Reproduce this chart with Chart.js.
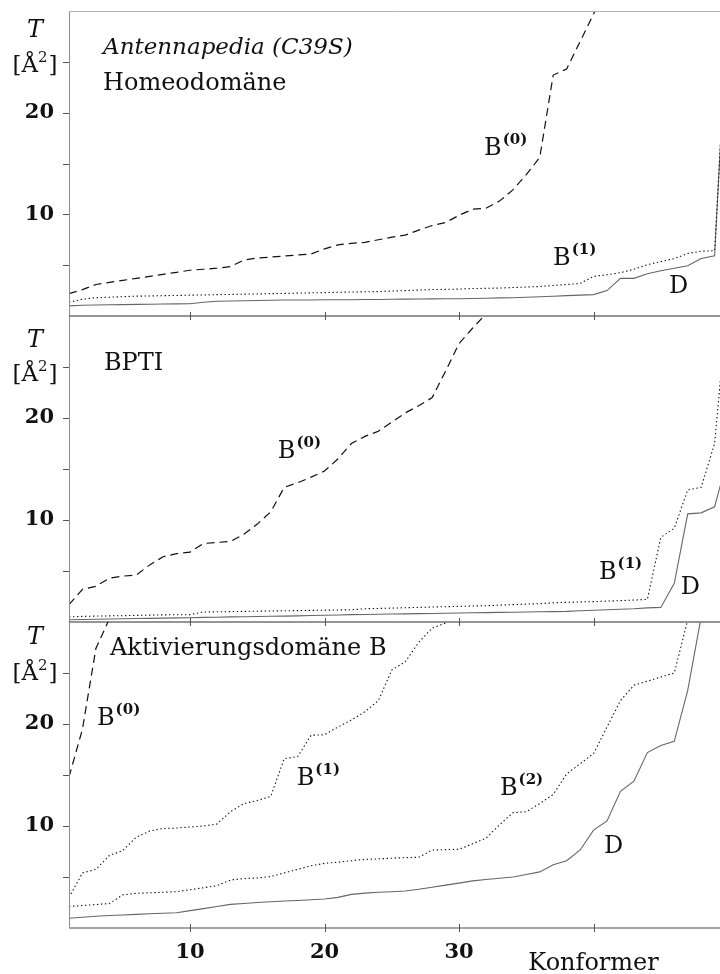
<!DOCTYPE html>
<html>
<head>
<meta charset="utf-8">
<title>Konformer – T</title>
<script src="https://cdn.jsdelivr.net/npm/chart.js@4.4.1/dist/chart.umd.min.js"></script>
<style>
  html, body { margin: 0; padding: 0; background: #fff; }
  #stack { position: relative; width: 720px; height: 974px; }
  #stack canvas { position: absolute; left: 0; top: 0; }
</style>
</head>
<body>
<div id="stack">
  <canvas id="homeo" width="720" height="974"></canvas>
  <canvas id="bpti" width="720" height="974"></canvas>
  <canvas id="aktiv" width="720" height="974"></canvas>
</div>
<script>
// Conformer index (sorted by T) and axis ticks
const CONFORMERS = [1,2,3,4,5,6,7,8,9,10,11,12,13,14,15,16,17,18,19,20,21,22,23,24,25,
                    26,27,28,29,30,31,32,33,34,35,36,37,38,39,40,41,42,43,44,45,46,47,48,49,50];
const Y_TICKS = [5, 10, 15, 20, 25];
const Y_LABELED = [10, 20];
const X_TICKS = [10, 20, 30, 40];
const X_LABELED = [10, 20, 30];

// Antennapedia (C39S) Homeodomäne
const homeoB0 = [2.2,2.6,3.1,3.3,3.5,3.7,3.9,4.1,4.3,4.5,4.6,4.7,4.85,5.5,5.7,5.8,5.9,6.0,6.1,6.6,
                 7.0,7.15,7.25,7.5,7.75,7.95,8.45,8.9,9.2,9.9,10.5,10.6,11.3,12.4,13.9,15.6,23.7,24.3,27.0,29.7,32.5];
const homeoB1 = [1.35,1.65,1.8,1.85,1.9,1.95,1.97,2.0,2.02,2.05,2.07,2.1,2.12,2.15,2.17,2.2,2.22,2.25,2.28,2.3,
                 2.33,2.36,2.38,2.4,2.45,2.5,2.55,2.6,2.62,2.65,2.7,2.72,2.75,2.8,2.85,2.9,3.0,3.1,3.2,3.9,
                 4.05,4.26,4.6,5.05,5.35,5.65,6.15,6.37,6.42,31];
const homeoD  = [1.0,1.05,1.08,1.1,1.12,1.14,1.16,1.18,1.19,1.2,1.35,1.45,1.47,1.5,1.52,1.55,1.57,1.58,1.58,1.6,
                 1.6,1.6,1.62,1.63,1.65,1.66,1.67,1.68,1.69,1.7,1.72,1.75,1.78,1.8,1.85,1.9,1.95,2.0,2.05,2.1,
                 2.5,3.7,3.7,4.15,4.45,4.7,4.95,5.65,5.93,31];

// BPTI
const bptiB0 = [1.7,3.2,3.5,4.3,4.5,4.6,5.6,6.4,6.7,6.85,7.7,7.8,7.9,8.6,9.6,10.8,13.2,13.65,14.2,14.8,
                16.0,17.5,18.2,18.7,19.6,20.5,21.2,22.0,24.6,27.3,28.8,30.2];
const bptiB1 = [0.5,0.55,0.58,0.6,0.62,0.65,0.67,0.7,0.71,0.72,0.98,1.0,1.02,1.04,1.06,1.08,1.1,1.12,1.14,1.16,
                1.18,1.2,1.3,1.33,1.36,1.4,1.43,1.47,1.5,1.53,1.57,1.6,1.65,1.7,1.75,1.8,1.88,1.93,1.97,2.0,
                2.05,2.1,2.15,2.22,8.3,9.2,12.95,13.2,17.5,32];
const bptiD  = [0.22,0.25,0.27,0.3,0.32,0.34,0.36,0.38,0.4,0.42,0.45,0.47,0.5,0.52,0.54,0.56,0.58,0.6,0.63,0.66,
                0.69,0.72,0.74,0.76,0.78,0.8,0.82,0.84,0.86,0.88,0.9,0.92,0.94,0.96,0.98,1.0,1.02,1.04,1.1,1.15,
                1.2,1.25,1.3,1.38,1.43,3.8,10.6,10.7,11.3,16.2];

// Aktivierungsdomäne B
const aktivB0 = [14.8,19.5,27.4,30.3];
const aktivB1 = [3.0,5.4,5.75,7.1,7.6,8.9,9.5,9.75,9.8,9.9,10.0,10.2,11.4,12.2,12.5,12.9,16.6,16.8,18.9,18.95,
                 19.7,20.4,21.2,22.3,25.3,26.1,28.0,29.4,29.9,31.0];
const aktivB2 = [2.1,2.2,2.3,2.4,3.25,3.4,3.45,3.5,3.56,3.75,3.95,4.15,4.7,4.85,4.9,5.05,5.4,5.75,6.1,6.34,
                 6.45,6.6,6.72,6.78,6.84,6.9,6.93,7.65,7.68,7.72,8.25,8.8,10.1,11.3,11.4,12.2,13.1,15.1,16.1,17.1,
                 19.7,22.3,23.8,24.2,24.6,25.0,30.2];
const aktivD  = [0.95,1.05,1.15,1.22,1.28,1.34,1.4,1.45,1.5,1.7,1.9,2.1,2.32,2.4,2.5,2.57,2.64,2.7,2.77,2.85,
                 3.0,3.3,3.42,3.5,3.56,3.63,3.8,4.0,4.2,4.4,4.62,4.75,4.87,5.0,5.25,5.5,6.2,6.6,7.65,9.6,
                 10.5,13.4,14.4,17.2,17.9,18.3,23.3,30.5];

const SERIF = '"DejaVu Serif", "Liberation Serif", serif';
const W = 720, H = 974;

const LINE = {
  dashed: { borderColor: '#111', borderWidth: 1.2, borderDash: [8, 5] },
  dotted: { borderColor: '#111', borderWidth: 1.1, borderDash: [1.4, 2.6] },
  solid:  { borderColor: '#666', borderWidth: 1.1, borderDash: [] }
};

function series(label, values, style) {
  return Object.assign({
    label,
    data: values.map((v, i) => ({ x: CONFORMERS[i], y: v })),
    pointRadius: 0,
    tension: 0,
    fill: false
  }, LINE[style]);
}

function strokeLine(ctx, x1, y1, x2, y2) {
  ctx.beginPath();
  ctx.moveTo(x1, y1);
  ctx.lineTo(x2, y2);
  ctx.stroke();
}

// Label text with optional superscript, left edge at x, baseline at y
function drawLabel(ctx, item, x, y) {
  ctx.font = item.font || ('24px ' + SERIF);
  ctx.fillText(item.text, x, y);
  if (item.sup) {
    const w = ctx.measureText(item.text).width;
    ctx.font = 'bold 15px ' + SERIF;
    ctx.fillText(item.sup, x + w + 1, y - 11);
  }
}

function decor(cfg) {
  return {
    id: 'panelDecor',
    afterDraw(chart) {
      const { ctx, chartArea: a, scales } = chart;
      const xs = scales.x, ys = scales.y;
      ctx.save();
      ctx.lineCap = 'butt';

      // frame
      ctx.lineWidth = 1;
      ctx.strokeStyle = '#8c8c8c';
      strokeLine(ctx, a.left + 0.5, a.top, a.left + 0.5, a.bottom);
      if (cfg.topLine) {
        ctx.strokeStyle = '#b4b4b4';
        strokeLine(ctx, a.left, a.top + 0.5, a.right, a.top + 0.5);
      }
      ctx.strokeStyle = cfg.bottomColor;
      ctx.lineWidth = cfg.bottomWidth;
      strokeLine(ctx, a.left, a.bottom, a.right, a.bottom);

      // tick marks
      ctx.lineWidth = 1;
      ctx.strokeStyle = '#555';
      Y_TICKS.forEach(v => {
        const py = Math.round(ys.getPixelForValue(v)) + 0.5;
        strokeLine(ctx, a.left - 6, py, a.left, py);
      });
      X_TICKS.forEach(v => {
        const px = Math.round(xs.getPixelForValue(v)) + 0.5;
        strokeLine(ctx, px, a.bottom - 4, px, a.bottom + 4);
      });

      // unit label on the left
      ctx.fillStyle = '#111';
      ctx.textBaseline = 'alphabetic';
      const cx = a.left - 34;
      ctx.textAlign = 'center';
      ctx.font = 'italic 24px ' + SERIF;
      ctx.fillText('T', cx, a.top + cfg.tBase);
      ctx.textAlign = 'left';
      ctx.font = '23px ' + SERIF;
      const w1 = ctx.measureText('[Å').width;
      const w3 = ctx.measureText(']').width;
      ctx.font = '15px ' + SERIF;
      const w2 = ctx.measureText('2').width;
      let sx = cx - (w1 + w2 + w3 + 1) / 2;
      const ab = a.top + cfg.aBase;
      ctx.font = '23px ' + SERIF;
      ctx.fillText('[Å', sx, ab);
      ctx.font = '15px ' + SERIF;
      ctx.fillText('2', sx + w1, ab - 10);
      ctx.font = '23px ' + SERIF;
      ctx.fillText(']', sx + w1 + w2 + 1, ab);

      // panel titles and curve labels
      cfg.labels.forEach(item => {
        drawLabel(ctx, item, xs.getPixelForValue(item.x), ys.getPixelForValue(item.y));
      });

      if (cfg.xTitle) {
        ctx.textAlign = 'center';
        ctx.font = '24px ' + SERIF;
        ctx.fillText(cfg.xTitle, xs.getPixelForValue(40), a.bottom + 42);
      }
      ctx.restore();
    }
  };
}

function makePanel(id, datasets, cfg) {
  const showX = !!cfg.xTitle;
  return new Chart(document.getElementById(id), {
    type: 'line',
    data: { datasets },
    options: {
      responsive: false,
      animation: false,
      devicePixelRatio: 1,
      layout: { padding: { top: cfg.top, bottom: showX ? 0 : H - cfg.bottom, left: 0, right: 0 } },
      plugins: { legend: { display: false }, tooltip: { enabled: false } },
      scales: {
        x: {
          type: 'linear',
          min: 1,
          max: 49.4,
          display: showX,
          afterFit(scale) {
            scale.height = showX ? H - cfg.bottom : 0;
            scale.paddingLeft = 0;
            scale.paddingRight = 0;
          },
          grid: { display: false, drawTicks: false },
          border: { display: false },
          afterBuildTicks(scale) { scale.ticks = X_TICKS.map(v => ({ value: v })); },
          ticks: {
            includeBounds: false,
            autoSkip: false,
            maxRotation: 0,
            padding: 12,
            color: '#111',
            font: { family: SERIF, size: 21, weight: 'bold' },
            callback: v => (X_LABELED.includes(v) ? String(v) : '')
          }
        },
        y: {
          type: 'linear',
          min: 0,
          max: 30,
          afterFit(scale) {
            scale.width = 69;
            scale.paddingTop = 0;
            scale.paddingBottom = 0;
          },
          grid: { display: false, drawTicks: false },
          border: { display: false },
          afterBuildTicks(scale) { scale.ticks = Y_TICKS.map(v => ({ value: v })); },
          ticks: {
            padding: 15,
            color: '#111',
            font: { family: SERIF, size: 21, weight: 'bold' },
            callback: v => (Y_LABELED.includes(v) ? String(v) : '')
          }
        }
      }
    },
    plugins: [decor(cfg)]
  });
}

makePanel('homeo', [
  series('B(0)', homeoB0, 'dashed'),
  series('B(1)', homeoB1, 'dotted'),
  series('D', homeoD, 'solid')
], {
  top: 11, bottom: 316, topLine: true, bottomColor: '#2a2a2a', bottomWidth: 1,
  tBase: 26, aBase: 61,
  labels: [
    { text: 'Antennapedia (C39S)', font: 'italic 23px ' + SERIF, x: 3.53, y: 25.76 },
    { text: 'Homeodomäne', x: 3.53, y: 22.2 },
    { text: 'B', sup: '(0)', x: 31.86, y: 15.83 },
    { text: 'B', sup: '(1)', x: 36.99, y: 5.01 },
    { text: 'D', x: 45.6, y: 2.26 }
  ]
});

makePanel('bpti', [
  series('B(0)', bptiB0, 'dashed'),
  series('B(1)', bptiB1, 'dotted'),
  series('D', bptiD, 'solid')
], {
  top: 316, bottom: 622, topLine: false, bottomColor: '#2a2a2a', bottomWidth: 1,
  tBase: 31, aBase: 65,
  labels: [
    { text: 'BPTI', x: 3.6, y: 24.7 },
    { text: 'B', sup: '(0)', x: 16.52, y: 16.08 },
    { text: 'B', sup: '(1)', x: 40.4, y: 4.22 },
    { text: 'D', x: 46.48, y: 2.75 }
  ]
});

makePanel('aktiv', [
  series('B(0)', aktivB0, 'dashed'),
  series('B(1)', aktivB1, 'dotted'),
  series('B(2)', aktivB2, 'dotted'),
  series('D', aktivD, 'solid')
], {
  top: 622, bottom: 928, topLine: false, bottomColor: '#888', bottomWidth: 1.6,
  tBase: 22, aBase: 58,
  xTitle: 'Konformer',
  labels: [
    { text: 'Aktivierungsdomäne B', x: 4.05, y: 26.76 },
    { text: 'B', sup: '(0)', x: 3.08, y: 19.9 },
    { text: 'B', sup: '(1)', x: 17.93, y: 14.02 },
    { text: 'B', sup: '(2)', x: 33.04, y: 13.04 },
    { text: 'D', x: 40.78, y: 7.35 }
  ]
});
</script>
</body>
</html>
